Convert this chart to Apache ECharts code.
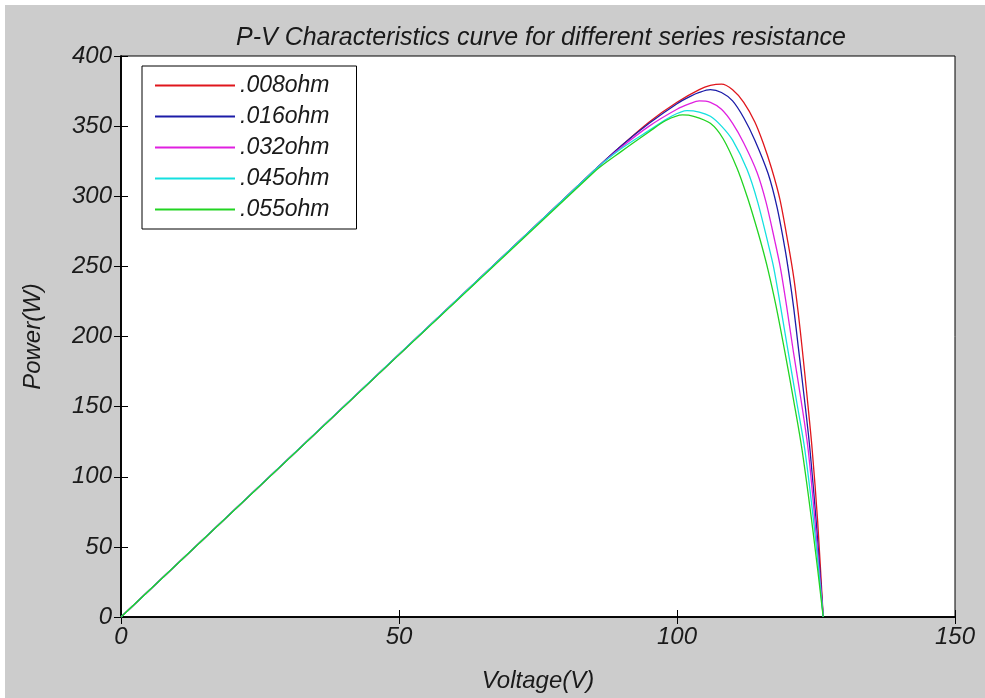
<!DOCTYPE html>
<html>
<head>
<meta charset="utf-8">
<script src="https://cdn.jsdelivr.net/npm/echarts@6/dist/echarts.min.js"></script>
<style>
html,body{margin:0;padding:0;background:#ffffff;}
#c{width:985px;height:698px;}
</style>
</head>
<body>
<div id="c"></div>
<script>
// ---- data (Voltage V, Power W) ----
const titleText = 'P-V Characteristics curve for different series resistance';
const seriesNames = ['.008ohm', '.016ohm', '.032ohm', '.045ohm', '.055ohm'];
const seriesColors = ['#e0161c', '#1c1ca8', '#e020e0', '#14e0e0', '#22d422'];
const xTicks = [0, 50, 100, 150];
const yTicks = [0, 50, 100, 150, 200, 250, 300, 350, 400];

const ohm008 = [[0,0],[85,318],[90,336],[95,353],[100,367],[104,376],[106,379],[108,380],[110,376],[112,367],[114,353],[115.5,338],[117,320],[118.5,298],[120,266],[121,242],[121.8,217],[122.5,192],[123.4,157],[124.3,120],[125.3,68],[126.3,0]];
const ohm016 = [[0,0],[85,318],[90,336],[95,352],[100,366],[102.3,371],[104,374],[106,376],[108,374],[110,368],[112,356],[114,340],[116.4,316],[118,292],[119.4,263],[120.2,243],[121,220],[121.8,193],[122.9,156],[123.9,120],[125.1,65],[126.3,0]];
const ohm032 = [[0,0],[85,318],[90,335],[95,350],[100,362],[102.3,366],[104,368],[106,367],[108,362],[110,352],[112,338],[114.4,317],[116,296],[117.6,268],[118.6,249],[119.7,222],[120.9,190],[122.3,155],[123.6,119],[125,60],[126.3,0]];
const ohm045 = [[0,0],[85,318],[90,334],[95,347],[99,357],[101.8,361],[104,360],[106,357],[108,350],[110,340],[112.6,319],[114.5,296],[116.4,266],[117.4,249],[118.6,222],[120,189],[121.5,154],[123,119],[124.8,60],[126.3,0]];
const ohm055 = [[0,0],[85,317],[90,332],[95,346],[98,354],[101,358],[103,357],[106,352],[108.3,341],[110.8,320],[112.6,300],[114,282],[115.3,264],[116.4,247],[117.8,222],[119.4,189],[121,154],[122.5,119],[124.5,60],[126.3,0]];
const seriesData = [ohm008, ohm016, ohm032, ohm045, ohm055];

const FONT = 'Liberation Sans';
const chart = echarts.init(document.getElementById('c'), null, {renderer: 'canvas'});

const GRID = {left: 121, top: 56, width: 834, height: 576};

const tickStyle = {show: true, inside: true, length: 7, lineStyle: {color: '#000', width: 1}};
const txt = {fontFamily: FONT, fontStyle: 'italic', fontWeight: 'normal', color: '#1a1a1a'};
const option = {
  backgroundColor: '#ffffff',
  animation: false,
  graphic: [{
    type: 'rect', z: -10, silent: true,
    shape: {x: 5, y: 5, width: 980, height: 693},
    style: {fill: '#cccccc'}
  }],
  title: {
    text: titleText,
    left: 536, top: 21, textAlign: 'center',
    textStyle: Object.assign({fontSize: 25}, txt)
  },
  legend: {
    orient: 'vertical',
    left: 142, top: 66,
    padding: [8, 27, 8, 13],
    itemGap: 8,
    itemWidth: 80, itemHeight: 2,
    icon: 'rect',
    backgroundColor: '#ffffff',
    borderColor: '#000', borderWidth: 1,
    textStyle: Object.assign({fontSize: 23, lineHeight: 23}, txt),
    data: seriesNames
  },
  grid: Object.assign({show: true, backgroundColor: '#ffffff', borderColor: '#000', borderWidth: 1}, GRID),
  xAxis: [{
    type: 'value', min: 0, max: 150, interval: 50,
    name: 'Voltage(V)', nameLocation: 'middle', nameGap: 52,
    nameTextStyle: Object.assign({fontSize: 24}, txt),
    axisLine: {show: true, lineStyle: {color: '#000', width: 1.5}},
    axisTick: tickStyle,
    splitLine: {show: false},
    axisLabel: Object.assign({fontSize: 24, margin: 8,
      formatter: v => xTicks.includes(v) ? String(v) : ''}, txt)
  }, {
    type: 'value', min: 0, max: 150, interval: 50, position: 'top',
    axisLine: {show: true, lineStyle: {color: '#000', width: 1.5}},
    axisTick: tickStyle, axisLabel: {show: false}, splitLine: {show: false}
  }],
  yAxis: [{
    type: 'value', min: 0, max: 400, interval: 50,
    name: 'Power(W)', nameLocation: 'middle', nameGap: 76, nameRotate: 90,
    nameTextStyle: Object.assign({fontSize: 24}, txt),
    axisLine: {show: true, lineStyle: {color: '#000', width: 1.5}},
    axisTick: tickStyle,
    splitLine: {show: false},
    axisLabel: Object.assign({fontSize: 24, margin: 9,
      formatter: v => yTicks.includes(v) ? String(v) : ''}, txt)
  }, {
    type: 'value', min: 0, max: 400, interval: 50, position: 'right',
    axisLine: {show: true, lineStyle: {color: '#000', width: 1.5}},
    axisTick: tickStyle, axisLabel: {show: false}, splitLine: {show: false}
  }],
  series: seriesNames.map((name, i) => ({
    name: name,
    type: 'line',
    xAxisIndex: 0, yAxisIndex: 0,
    data: seriesData[i],
    showSymbol: false,
    smooth: 0.3,
    color: seriesColors[i],
    lineStyle: {width: 1.3, color: seriesColors[i]},
    z: 2 + i
  }))
};
chart.setOption(option);
</script>
</body>
</html>
